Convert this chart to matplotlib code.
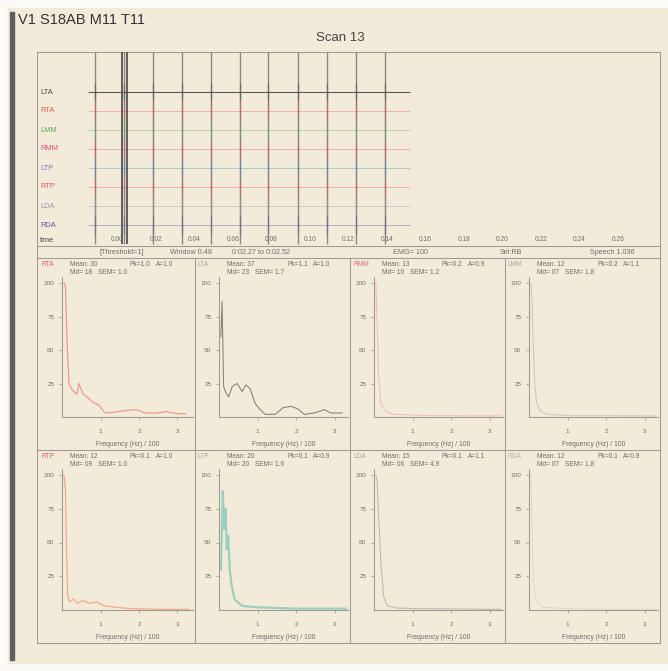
import matplotlib
matplotlib.use('Agg')
import matplotlib.pyplot as plt
from matplotlib.patches import Rectangle

plt.rcParams['font.family'] = ['Liberation Sans', 'DejaVu Sans']

# ---------------- data ----------------
title_text = "V1 S18AB M11 T11"
scan_text = "Scan 13"
channels = ['LTA', 'RTA', 'LMM', 'RMM', 'LTP', 'RTP', 'LDA', 'RDA']
channel_colors = ['#4a4a4a', '#e35a5a', '#5ea85e', '#e0507a', '#5a86c8', '#e05a5a', '#9a9aa8', '#5a5aa0']
spike_times = [-0.0117, 0.0034, 0.0184, 0.0335, 0.0486, 0.0636, 0.0782, 0.0938, 0.1088, 0.1239, 0.1390]
cursor_times = [0.0021, 0.0049]
time_ticks = [0.00, 0.02, 0.04, 0.06, 0.08, 0.10, 0.12, 0.14, 0.16, 0.18, 0.20, 0.22, 0.24, 0.26]
time_labels = ['0.00', '0.02', '0.04', '0.06', '0.08', '0.10', '0.12', '0.14', '0.16', '0.18',
               '0.20', '0.22', '0.24', '0.26']
info_texts = ['[Threshold=1]', 'Window 0.48', '0:02.27 to 0:02.52', 'EMG= 100', 'Sel:RB', 'Speech 1.036']

cell_names = ['RTA', 'LTA', 'RMM', 'LMM', 'RTP', 'LTP', 'LDA', 'RDA']
cell_label_colors = ['#e06060', '#a8a8a0', '#e07088', '#a8a8a0', '#e06060', '#a8a8a0', '#a8a8a0', '#a8b8a8']
cell_means = ['Mean: 30', 'Mean: 37', 'Mean: 13', 'Mean: 12', 'Mean: 12', 'Mean: 20', 'Mean: 15', 'Mean: 12']
cell_pks = ['Pk=1.0', 'Pk=1.1', 'Pk=0.2', 'Pk=0.2', 'Pk=0.1', 'Pk=0.1', 'Pk=0.1', 'Pk=0.1']
cell_amps = ['A=1.0', 'A=1.0', 'A=0.9', 'A=1.1', 'A=1.0', 'A=0.9', 'A=1.1', 'A=0.9']
cell_mds = ['Md= 18', 'Md= 23', 'Md= 10', 'Md= 07', 'Md= 09', 'Md= 20', 'Md= 06', 'Md= 07']
cell_sems = ['SEM= 1.0', 'SEM= 1.7', 'SEM= 1.2', 'SEM= 1.8', 'SEM= 1.0', 'SEM= 1.6', 'SEM= 4.9', 'SEM= 1.8']

spec_freqs = [
    [0.05, 0.09, 0.13, 0.18, 0.25, 0.31, 0.39, 0.44, 0.55, 0.69, 0.8, 0.95, 1.12, 1.3, 1.46, 1.7, 1.88,
     2.0, 2.14, 2.3, 2.48, 2.6, 2.69, 2.8, 2.9, 3.0, 3.2],
    [0.05, 0.08, 0.12, 0.18, 0.25, 0.34, 0.47, 0.6, 0.7, 0.81, 0.94, 1.07, 1.2, 1.46, 1.67, 1.88, 2.05,
     2.22, 2.48, 2.74, 2.9, 3.2],
    [0.05, 0.08, 0.12, 0.18, 0.3, 0.5, 1.0, 1.5, 2.0, 2.5, 3.0, 3.3],
    [0.05, 0.08, 0.11, 0.15, 0.2, 0.3, 0.5, 1.0, 2.0, 3.0, 3.3],
    [0.05, 0.09, 0.12, 0.15, 0.2, 0.3, 0.4, 0.55, 0.7, 0.9, 1.1, 1.4, 1.8, 2.5, 3.3],
    [0.05, 0.1, 0.13, 0.17, 0.2, 0.24, 0.28, 0.32, 0.4, 0.6, 1.0, 2.0, 3.0, 3.3],
    [0.05, 0.08, 0.12, 0.18, 0.25, 0.35, 0.6, 1.0, 2.0, 3.0, 3.3],
    [0.05, 0.08, 0.12, 0.2, 0.4, 1.0, 2.0, 3.0, 3.3],
]
spec_values = [
    [100, 98, 57, 25, 21, 19, 17, 25, 17, 14, 11, 9, 3, 3.5, 4, 5, 5.5, 5, 3, 3, 3, 3.5, 4, 3.5, 3, 2.5, 2.5],
    [60, 86, 22.6, 18, 15, 22.6, 25, 19, 24, 21, 10, 5.5, 2, 2, 7, 8, 6, 2, 3, 5.5, 3, 3],
    [100, 70, 30, 10, 4, 2, 1.5, 1, 1, 0.8, 0.8, 0.8],
    [100, 85, 55, 25, 10, 4, 2, 1, 1, 0.8, 0.8],
    [100, 89, 40, 10, 6, 8, 5, 7, 5, 6, 3, 2, 1, 0.5, 0.5],
    [30, 88, 60, 75, 45, 55, 30, 20, 8, 3, 2, 1, 1, 1],
    [100, 96, 70, 35, 10, 3, 1.5, 1, 0.8, 0.5, 0.5],
    [100, 60, 20, 5, 2, 1, 0.5, 0.5, 0.5],
]
spec_colors = ['#ec9c8a', '#86867c', '#f2bcc2', '#cacac2', '#f2aa8a', '#9ccfbd', '#bcbcb4', '#d8d8d0']
spec_widths = [0.9, 0.8, 0.8, 0.8, 0.9, 1.6, 0.8, 0.7]
y_ticks = [25, 50, 75, 100]
x_ticks = [1, 2, 3]
x_label = 'Frequency (Hz) / 100'

# ---------------- layout ----------------
W, H = 668, 671
BEIGE = '#f3ebda'
LINE = '#a09e94'
TXT = '#6e6e6a'

fig = plt.figure(figsize=(W / 100, H / 100), dpi=100)
fig.patch.set_facecolor('#fbfaf7')


def px_axes(x0, y0, x1, y1):
    ax = fig.add_axes([x0 / W, 1 - y1 / H, (x1 - x0) / W, (y1 - y0) / H])
    ax.set_facecolor('none')
    return ax


ov = px_axes(0, 0, W, H)
ov.set_xlim(0, W)
ov.set_ylim(H, 0)
ov.axis('off')
ov.add_patch(Rectangle((8, 8), W - 8, H - 16, color=BEIGE, zorder=0))
ov.add_patch(Rectangle((10, 12), 4, 648, color='#5e5e5e', zorder=1))

ov.text(18, 20, title_text, fontsize=10.5, color='#333333', va='center', ha='left')
ov.text(340, 38, scan_text, fontsize=9.5, color='#444444', va='center', ha='center')

# frame lines
frame = [((37, 52), (660, 52)), ((37, 52), (37, 643)), ((660, 52), (660, 643)),
         ((37, 246), (660, 246)), ((37, 258), (660, 258)), ((37, 450), (660, 450)),
         ((37, 643), (660, 643)),
         ((195, 258), (195, 643)), ((350, 258), (350, 643)), ((505, 258), (505, 643))]
for (a, b) in frame:
    ov.plot([a[0], b[0]], [a[1], b[1]], color=LINE, lw=0.8)

# info row
info_x = [100, 170, 232, 393, 500, 590]
for x, s in zip(info_x, info_texts):
    ov.text(x, 252, s, fontsize=5.2, color=TXT, va='center', ha='left')

# ---------------- traces ----------------
tx = px_axes(37, 52, 660, 246)
tx.axis('off')
tx.set_xlim((37 - 117.5) / 1925, (660 - 117.5) / 1925)
tx.set_ylim((246 - 92) / 19, (52 - 92) / 19)
ylo, yhi = (52 - 92) / 19, (244 - 92) / 19
tx.vlines(spike_times, ylo, yhi, color='#8a887f', lw=1.0)
for i, (name, col) in enumerate(zip(channels, channel_colors)):
    tx.hlines(i, (88 - 117.5) / 1925, (410 - 117.5) / 1925, color=col,
              lw=0.8 if i == 0 else 0.6, alpha=0.9 if i == 0 else 0.45)
    tx.vlines(spike_times, i - 0.45, i + 0.45, color=col, lw=1.0, alpha=0.45)
    tx.text((40 - 117.5) / 1925, i, name, fontsize=5.4, color=col, va='center', ha='left')
tx.vlines(cursor_times, ylo, yhi, color='#555550', lw=1.3)
tx.text((40 - 117.5) / 1925, (240 - 92) / 19, 'time', fontsize=5.4, color='#4a4a4a', va='center', ha='left')
for t, lab in zip(time_ticks, time_labels):
    tx.text(t, (239 - 92) / 19, lab, fontsize=4.8, color=TXT, va='center', ha='center')

# ---------------- spectrum cells ----------------
col_left = [38, 195, 350, 505]
col_right = [193, 348, 503, 658]
row_top = [258, 450]
row_bottom = [417, 610]
row_100 = [283, 475]

for k in range(8):
    r, c = divmod(k, 4)
    L = col_left[c]
    x0 = L + 24
    x1 = col_right[c]
    yb = row_bottom[r]
    y100 = row_100[r]
    ppu = (yb - y100) / 100.0
    ytop = y100 - 6
    ax = px_axes(x0, ytop, x1, yb)
    ax.set_xlim(0, (x1 - x0) / 38.5)
    ax.set_ylim(0, (yb - ytop) / ppu)
    ax.plot(spec_freqs[k], spec_values[k], color=spec_colors[k], lw=spec_widths[k])
    for s in ['top', 'right']:
        ax.spines[s].set_visible(False)
    for s in ['left', 'bottom']:
        ax.spines[s].set_color(LINE)
        ax.spines[s].set_linewidth(0.8)
    ax.set_yticks(y_ticks)
    ax.set_yticklabels([str(v) for v in y_ticks])
    ax.set_xticks(x_ticks)
    ax.set_xticklabels([str(v) for v in x_ticks])
    ax.tick_params(axis='both', labelsize=4.6, colors=LINE, labelcolor=TXT, length=2.5, width=0.6, pad=3)
    ax.tick_params(axis='x', pad=6)
    ax.set_xlabel(x_label, fontsize=4.9, color=TXT, labelpad=5)

    ht = row_top[r]
    ov.text(L + 3, ht + 6, cell_names[k], fontsize=4.8, color=cell_label_colors[k], va='center')
    ov.text(L + 32, ht + 6, cell_means[k], fontsize=4.8, color=TXT, va='center')
    ov.text(L + 92, ht + 6, cell_pks[k], fontsize=4.8, color=TXT, va='center')
    ov.text(L + 118, ht + 6, cell_amps[k], fontsize=4.8, color=TXT, va='center')
    ov.text(L + 32, ht + 15, cell_mds[k], fontsize=4.8, color=TXT, va='center')
    ov.text(L + 60, ht + 15, cell_sems[k], fontsize=4.8, color=TXT, va='center')

fig.savefig('out.png', dpi=100, facecolor=fig.get_facecolor())
